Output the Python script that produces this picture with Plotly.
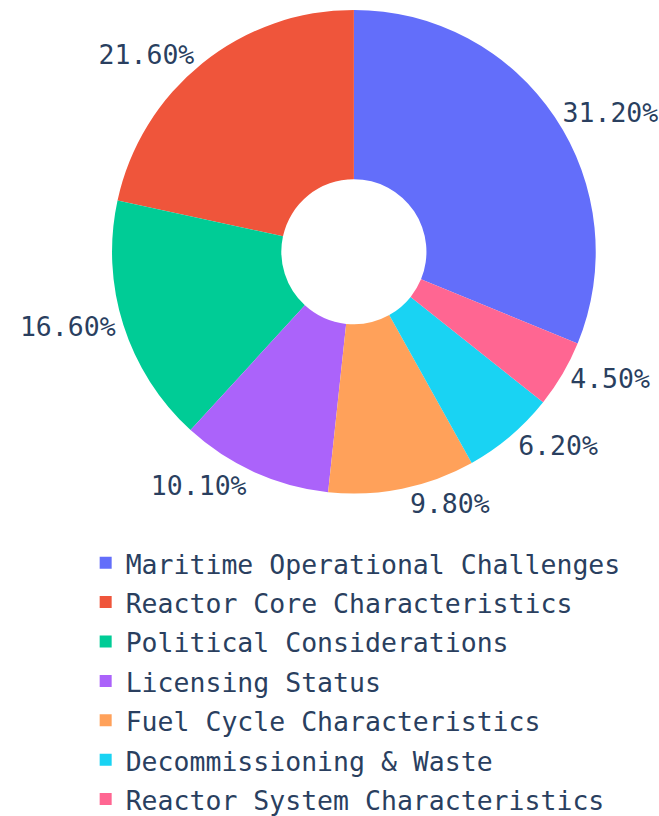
import plotly.graph_objects as go

# Share of topics discussed across the reviewed sources
categories = [
    "Maritime Operational Challenges",
    "Reactor Core Characteristics",
    "Political Considerations",
    "Licensing Status",
    "Fuel Cycle Characteristics",
    "Decommissioning & Waste",
    "Reactor System Characteristics",
]
shares = [31.2, 21.6, 16.6, 10.1, 9.8, 6.2, 4.5]
colors = ["#636EFA", "#EF553B", "#00CC96", "#AB63FA", "#FFA15A", "#19D3F3", "#FF6692"]

MONO = "DejaVu Sans Mono"
TEXT_COLOR = "#2a3f5f"

# Legend rows use a slightly taller line box than the glyphs themselves
legend_labels = [f'<span style="font-size:26.5px">{c.replace("&", "&amp;")}</span>' for c in categories]

fig = go.Figure(
    go.Pie(
        labels=legend_labels,
        values=shares,
        hole=0.3,
        marker=dict(colors=colors),
        textposition="outside",
        texttemplate="%{percent:.2%}",
        textfont=dict(family=MONO, size=26.5, color=TEXT_COLOR),
        automargin=False,
        domain=dict(x=[0.17, 0.904], y=[0.395, 0.988]),
        sort=True,
        hovertemplate="%{label}: %{percent:.2%}<extra></extra>",
    )
)

fig.update_layout(
    width=659,
    height=816,
    margin=dict(l=0, r=0, t=0, b=0, autoexpand=False),
    paper_bgcolor="white",
    font=dict(family=MONO, color=TEXT_COLOR),
    showlegend=True,
    legend=dict(
        orientation="v",
        x=0.13,
        xanchor="left",
        y=0.3407,
        yanchor="top",
        font=dict(family=MONO, size=28, color=TEXT_COLOR),
    ),
)

fig.write_html("out.html")
